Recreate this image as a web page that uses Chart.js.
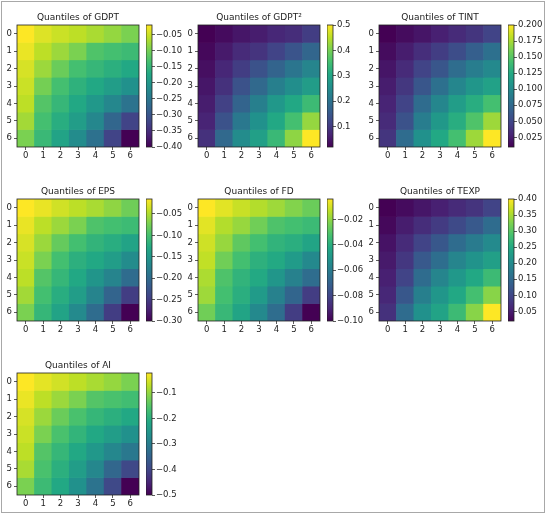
<!DOCTYPE html>
<html>
<head>
<meta charset="utf-8">
<script src="https://cdn.jsdelivr.net/npm/chart.js@4.4.1/dist/chart.umd.min.js"></script>
<style>
    html, body { margin: 0; padding: 0; background: #fff; }
    #frame { position: absolute; left: 1px; top: 1px; width: 542px; height: 510px; border: 1.5px solid #a8a8a8; }
    canvas { position: absolute; }
</style>
</head>
<body>
<div id="frame"></div>
<script>
// Quantile indices (both axes)
const quantiles = ['0', '1', '2', '3', '4', '5', '6'];

// Cell values (rows top to bottom)
const gdpt = [
    [-0.020, -0.039, -0.050, -0.058, -0.069, -0.081, -0.096],
    [-0.031, -0.058, -0.077, -0.096, -0.126, -0.134, -0.142],
    [-0.043, -0.077, -0.107, -0.134, -0.149, -0.161, -0.172],
    [-0.050, -0.100, -0.134, -0.157, -0.172, -0.191, -0.210],
    [-0.058, -0.123, -0.149, -0.172, -0.199, -0.225, -0.256],
    [-0.073, -0.134, -0.164, -0.191, -0.225, -0.275, -0.324],
    [-0.096, -0.145, -0.180, -0.218, -0.259, -0.324, -0.400]
];
const gdpt2 = [
    [0.020, 0.034, 0.049, 0.058, 0.073, 0.082, 0.106],
    [0.030, 0.054, 0.078, 0.092, 0.116, 0.145, 0.178],
    [0.039, 0.073, 0.106, 0.140, 0.174, 0.207, 0.236],
    [0.049, 0.087, 0.140, 0.183, 0.226, 0.255, 0.284],
    [0.058, 0.111, 0.174, 0.226, 0.274, 0.308, 0.346],
    [0.068, 0.140, 0.212, 0.260, 0.308, 0.356, 0.423],
    [0.087, 0.183, 0.250, 0.289, 0.342, 0.418, 0.500]
];
const tint = [
    [0.010, 0.016, 0.021, 0.027, 0.033, 0.039, 0.048],
    [0.016, 0.025, 0.035, 0.044, 0.054, 0.067, 0.080],
    [0.021, 0.033, 0.048, 0.061, 0.078, 0.090, 0.099],
    [0.025, 0.040, 0.061, 0.080, 0.097, 0.109, 0.118],
    [0.029, 0.048, 0.077, 0.097, 0.115, 0.128, 0.143],
    [0.033, 0.058, 0.090, 0.111, 0.128, 0.147, 0.172],
    [0.039, 0.077, 0.105, 0.124, 0.143, 0.172, 0.200]
];
const eps = [
    [-0.015, -0.024, -0.035, -0.044, -0.052, -0.063, -0.078],
    [-0.024, -0.044, -0.058, -0.072, -0.095, -0.101, -0.106],
    [-0.032, -0.058, -0.083, -0.101, -0.115, -0.123, -0.135],
    [-0.038, -0.072, -0.101, -0.120, -0.129, -0.143, -0.163],
    [-0.044, -0.092, -0.112, -0.129, -0.152, -0.172, -0.200],
    [-0.055, -0.101, -0.123, -0.143, -0.172, -0.209, -0.249],
    [-0.072, -0.112, -0.135, -0.166, -0.200, -0.249, -0.300]
];
const fd = [
    [-0.004, -0.008, -0.012, -0.015, -0.018, -0.022, -0.026],
    [-0.008, -0.015, -0.019, -0.025, -0.031, -0.033, -0.035],
    [-0.011, -0.019, -0.028, -0.033, -0.038, -0.040, -0.044],
    [-0.013, -0.025, -0.033, -0.039, -0.042, -0.048, -0.055],
    [-0.016, -0.031, -0.038, -0.042, -0.050, -0.058, -0.066],
    [-0.018, -0.033, -0.040, -0.048, -0.058, -0.069, -0.083],
    [-0.025, -0.036, -0.044, -0.055, -0.066, -0.083, -0.100]
];
const texp = [
    [0.020, 0.031, 0.043, 0.054, 0.066, 0.077, 0.096],
    [0.028, 0.050, 0.069, 0.085, 0.104, 0.126, 0.153],
    [0.039, 0.066, 0.096, 0.123, 0.153, 0.176, 0.199],
    [0.047, 0.081, 0.126, 0.157, 0.191, 0.214, 0.233],
    [0.054, 0.096, 0.153, 0.191, 0.221, 0.248, 0.278],
    [0.062, 0.123, 0.183, 0.218, 0.248, 0.286, 0.332],
    [0.073, 0.153, 0.210, 0.240, 0.278, 0.332, 0.400]
];
const ai = [
    [-0.022, -0.041, -0.055, -0.070, -0.084, -0.098, -0.118],
    [-0.036, -0.070, -0.094, -0.118, -0.151, -0.161, -0.170],
    [-0.051, -0.094, -0.132, -0.161, -0.185, -0.199, -0.213],
    [-0.060, -0.118, -0.161, -0.189, -0.213, -0.237, -0.261],
    [-0.070, -0.151, -0.185, -0.213, -0.247, -0.280, -0.309],
    [-0.084, -0.161, -0.199, -0.237, -0.280, -0.342, -0.395],
    [-0.118, -0.175, -0.213, -0.261, -0.318, -0.395, -0.500]
];

// Colorbar tick values
const gdptTicks = [-0.40, -0.35, -0.30, -0.25, -0.20, -0.15, -0.10, -0.05];
const gdpt2Ticks = [0.1, 0.2, 0.3, 0.4, 0.5];
const tintTicks = [0.025, 0.050, 0.075, 0.100, 0.125, 0.150, 0.175, 0.200];
const epsTicks = [-0.30, -0.25, -0.20, -0.15, -0.10, -0.05];
const fdTicks = [-0.10, -0.08, -0.06, -0.04, -0.02];
const texpTicks = [0.05, 0.10, 0.15, 0.20, 0.25, 0.30, 0.35, 0.40];
const aiTicks = [-0.5, -0.4, -0.3, -0.2, -0.1];

// viridis stops
const viridisStops = ['#440154', '#482475', '#414487', '#355f8d', '#2a788e', '#21918c',
    '#22a884', '#44bf70', '#7ad151', '#bddf26', '#fde725'];

const panels = [
    { title: 'Quantiles of GDPT', values: gdpt, ticks: gdptTicks, digits: 2, col: 0, row: 0 },
    { title: 'Quantiles of GDPT\u00b2', values: gdpt2, ticks: gdpt2Ticks, digits: 1, col: 1, row: 0 },
    { title: 'Quantiles of TINT', values: tint, ticks: tintTicks, digits: 3, col: 2, row: 0 },
    { title: 'Quantiles of EPS', values: eps, ticks: epsTicks, digits: 2, col: 0, row: 1 },
    { title: 'Quantiles of FD', values: fd, ticks: fdTicks, digits: 2, col: 1, row: 1 },
    { title: 'Quantiles of TEXP', values: texp, ticks: texpTicks, digits: 2, col: 2, row: 1 },
    { title: 'Quantiles of AI', values: ai, ticks: aiTicks, digits: 1, col: 0, row: 2 }
];

const colX = [17, 198, 379];
const rowY = [25, 199, 373];
const SIZE = 122;
const TEXT = '#222';
const FONT = "'DejaVu Sans', sans-serif";

Chart.defaults.font.family = FONT;
Chart.defaults.font.size = 8.5;
Chart.defaults.color = TEXT;

function hexToRgb(h) {
    return [1, 3, 5].map(i => parseInt(h.substr(i, 2), 16));
}

function viridis(t) {
    t = Math.max(0, Math.min(1, t));
    const pos = t * (viridisStops.length - 1);
    const i = Math.min(Math.floor(pos), viridisStops.length - 2);
    const f = pos - i;
    const a = hexToRgb(viridisStops[i]);
    const b = hexToRgb(viridisStops[i + 1]);
    const c = a.map((v, k) => Math.round(v + (b[k] - v) * f));
    return 'rgb(' + c.join(',') + ')';
}

function formatTick(v, digits) {
    return v.toFixed(digits).replace('-', '\u2212');
}

function addCanvas(left, top, width, height) {
    const c = document.createElement('canvas');
    c.width = width;
    c.height = height;
    c.style.left = left + 'px';
    c.style.top = top + 'px';
    c.style.width = width + 'px';
    c.style.height = height + 'px';
    document.body.appendChild(c);
    return c;
}

// black outline round the plot area, like the axes frame
const framePlugin = {
    id: 'frame',
    afterDatasetsDraw(chart) {
        const { ctx, chartArea: a } = chart;
        ctx.save();
        ctx.strokeStyle = '#222';
        ctx.lineWidth = 0.8;
        ctx.strokeRect(a.left, a.top, a.right - a.left, a.bottom - a.top);
        ctx.restore();
    }
};

// panel title, centred over the plot area
const panelTitle = {
    id: 'panelTitle',
    afterDraw(chart, args, opts) {
        const { ctx, chartArea: a } = chart;
        ctx.save();
        ctx.font = '9px ' + FONT;
        ctx.fillStyle = TEXT;
        ctx.textAlign = 'center';
        ctx.textBaseline = 'middle';
        ctx.fillText(opts.text, (a.left + a.right) / 2, a.top - 7.3);
        ctx.restore();
    }
};

const tickGrid = {
    display: true,
    offset: false,
    drawOnChartArea: false,
    drawTicks: true,
    tickLength: 3,
    tickColor: '#333',
    tickWidth: 0.8
};

function drawHeatmap(p) {
    const x0 = colX[p.col], y0 = rowY[p.row];
    const flat = p.values.flat();
    const lo = Math.min(...flat), hi = Math.max(...flat);

    const canvas = addCanvas(x0 - 17, y0 - 17, SIZE + 34, SIZE + 33);
    new Chart(canvas, {
        type: 'bar',
        data: {
            labels: quantiles,
            datasets: p.values.map((row, r) => ({
                label: quantiles[r],
                data: row.map(() => [r - 0.5, r + 0.5]),
                backgroundColor: row.map(v => viridis((v - lo) / (hi - lo))),
                borderWidth: 0,
                barPercentage: 1,
                categoryPercentage: 1,
                grouped: false
            }))
        },
        options: {
            responsive: false,
            animation: false,
            layout: { padding: { top: 17, right: 17, left: 0, bottom: 0 } },
            plugins: {
                legend: { display: false },
                tooltip: { enabled: false },
                title: { display: false },
                panelTitle: { text: p.title }
            },
            scales: {
                x: {
                    grid: tickGrid,
                    border: { display: false },
                    ticks: { color: TEXT, padding: 1, maxRotation: 0, autoSkip: false },
                    afterFit: s => { s.height = 16; }
                },
                y: {
                    reverse: true,
                    min: -0.5,
                    max: 6.5,
                    afterBuildTicks: s => { s.ticks = quantiles.map((q, i) => ({ value: i })); },
                    grid: tickGrid,
                    border: { display: false },
                    ticks: { color: TEXT, padding: 2, autoSkip: false, callback: v => quantiles[v] },
                    afterFit: s => { s.width = 17; }
                }
            }
        },
        plugins: [framePlugin, panelTitle]
    });

    // colorbar
    const cb = addCanvas(x0 + 129, y0 - 8, 51, SIZE + 16);
    new Chart(cb, {
        type: 'bar',
        data: {
            labels: [p.title],
            datasets: [{
                data: [[lo, hi]],
                backgroundColor: function(context) {
                    const chart = context.chart;
                    const area = chart.chartArea;
                    if (!area) return null;
                    const g = chart.ctx.createLinearGradient(0, area.bottom, 0, area.top);
                    viridisStops.forEach((c, i) => g.addColorStop(i / (viridisStops.length - 1), c));
                    return g;
                },
                borderWidth: 0,
                barPercentage: 1,
                categoryPercentage: 1
            }]
        },
        options: {
            responsive: false,
            animation: false,
            layout: { padding: { top: 8, bottom: 8, left: 0, right: 0 } },
            plugins: {
                legend: { display: false },
                tooltip: { enabled: false },
                title: { display: false }
            },
            scales: {
                x: { display: false },
                y: {
                    position: 'right',
                    min: lo,
                    max: hi,
                    afterBuildTicks: s => { s.ticks = p.ticks.map(v => ({ value: v })); },
                    grid: tickGrid,
                    border: { display: false },
                    ticks: { color: TEXT, padding: 1, autoSkip: false, callback: v => formatTick(v, p.digits) },
                    afterFit: s => { s.width = 45; }
                }
            }
        },
        plugins: [framePlugin]
    });
}

panels.forEach(drawHeatmap);
</script>
</body>
</html>
